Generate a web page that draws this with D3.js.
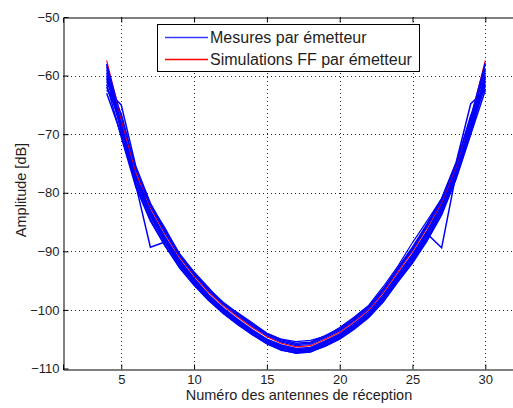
<!DOCTYPE html>
<html><head><meta charset="utf-8">
<script src="https://cdn.jsdelivr.net/npm/d3@7"></script>
<style>
html,body{margin:0;padding:0;background:#fff;}
svg{display:block;font-family:"Liberation Sans",Arial,sans-serif;}
</style></head>
<body>
<svg id="chart" width="513" height="408"></svg>
<script>
// ---- data ----
const antennas = [4,5,6,7,8,9,10,11,12,13,14,15,16,17,18,19,20,21,22,23,24,25,26,27,28,29,30];
const xTicks = [5,10,15,20,25,30];
const yTicks = [-50,-60,-70,-80,-90,-100,-110];
const legendLabels = ["Mesures par émetteur","Simulations FF par émetteur"];
const xLabel = "Numéro des antennes de réception";
const yLabel = "Amplitude [dB]";

const mes1  = [-58.0,-68.0,-77.2,-83.3,-87.8,-91.6,-94.8,-97.6,-99.9,-101.8,-103.6,-105.1,-106.2,-106.8,-106.6,-105.5,-104.3,-102.6,-100.6,-97.7,-94.2,-90.8,-86.8,-82.4,-76.0,-68.0,-58.0];
const mes2  = [-59.5,-69.0,-78.0,-84.0,-88.5,-92.3,-95.3,-98.0,-100.3,-102.2,-104.0,-105.6,-106.7,-107.2,-107.0,-106.0,-104.8,-103.0,-101.0,-98.2,-94.8,-91.5,-87.6,-83.2,-77.0,-69.2,-59.8];
const mes3  = [-62.5,-65.0,-75.5,-81.8,-86.3,-90.4,-93.6,-96.4,-98.7,-100.6,-102.4,-104.0,-105.1,-105.7,-105.5,-104.4,-103.2,-101.4,-99.4,-96.4,-92.8,-89.3,-85.3,-81.0,-74.8,-64.8,-62.5];
const mes4  = [-60.5,-69.0,-78.7,-89.3,-88.4,-92.0,-95.0,-97.8,-100.0,-101.9,-103.7,-105.2,-106.3,-106.9,-106.7,-105.6,-104.4,-102.7,-100.8,-97.9,-94.4,-91.0,-87.0,-82.6,-76.3,-68.5,-60.2];
const mes5  = [-58.5,-68.3,-77.5,-83.6,-88.0,-91.8,-95.0,-97.7,-100.0,-101.9,-103.7,-105.2,-106.3,-106.9,-106.7,-105.6,-104.4,-102.7,-100.8,-97.9,-94.3,-91.0,-87.0,-89.4,-76.7,-68.0,-58.8];
const mes6  = [-61.0,-66.5,-76.0,-82.0,-86.5,-90.6,-93.8,-96.6,-98.9,-100.8,-102.6,-104.2,-105.3,-105.9,-105.7,-104.6,-103.4,-101.6,-99.5,-96.5,-93.0,-89.5,-85.5,-81.2,-75.0,-66.8,-61.5];
const mes7  = [-63.0,-70.0,-78.5,-84.5,-89.0,-92.8,-95.8,-98.4,-100.6,-102.5,-104.2,-105.8,-106.9,-107.3,-107.1,-106.2,-105.0,-103.3,-101.3,-98.6,-95.2,-92.0,-88.2,-83.8,-77.6,-70.0,-62.5];
const mes8  = [-58.0,-67.0,-76.0,-82.3,-86.8,-90.8,-94.0,-96.8,-99.1,-101.0,-102.8,-104.4,-105.5,-106.1,-105.9,-104.8,-103.6,-101.8,-99.8,-96.8,-93.2,-89.8,-85.8,-81.5,-75.2,-67.0,-57.8];
const mes9  = [-60.0,-69.5,-77.0,-83.0,-87.5,-91.4,-94.6,-97.4,-99.7,-101.6,-103.4,-105.0,-106.0,-106.6,-106.4,-105.3,-104.1,-102.3,-100.3,-97.4,-93.9,-90.5,-86.5,-82.0,-75.8,-69.0,-60.5];
const mes10 = [-62.0,-68.0,-77.0,-83.8,-88.2,-92.0,-95.2,-97.9,-100.2,-102.1,-103.9,-105.4,-106.5,-107.0,-106.9,-105.8,-104.6,-102.9,-100.9,-98.0,-94.6,-91.2,-87.3,-82.9,-76.5,-68.8,-61.8];
const mes11 = [-59.0,-68.5,-77.5,-82.0,-86.0,-90.5,-93.5,-96.2,-99.0,-100.5,-102.2,-104.0,-105.0,-105.4,-105.2,-104.5,-103.0,-101.2,-99.2,-96.0,-92.5,-88.5,-84.8,-81.0,-75.0,-67.5,-59.2];
const mes12 = [-61.5,-70.5,-79.0,-84.8,-89.0,-92.6,-95.6,-98.2,-100.5,-102.4,-104.2,-105.7,-106.8,-107.4,-107.2,-106.1,-104.9,-103.1,-101.1,-98.3,-95.0,-91.8,-87.9,-83.5,-77.3,-69.8,-61.0];

const sim1 = [-57.4,-67.5,-76.5,-82.5,-87.0,-91.0,-94.2,-97.0,-99.3,-101.2,-103.0,-104.6,-105.7,-106.3,-106.1,-105.0,-103.8,-102.0,-100.0,-97.0,-93.5,-90.0,-86.0,-81.7,-75.4,-67.3,-57.4];

const measuresUnder = [mes1,mes2,mes3,mes4,mes5,mes6,mes7,mes9,mes10,mes12];
const simulations = [sim1];
const measuresOver = [mes8,mes11];

// ---- layout ----
const svg = d3.select("#chart");
const L = 63, T = 17, B = 368.5, R = 529;
const x = d3.scaleLinear().domain([1,33]).range([L, R]);
const y = d3.scaleLinear().domain([-110,-50]).range([B, T]);
const textCol = "#1e1e1e";

svg.append("rect").attr("width",513).attr("height",408).attr("fill","#fff");

// grid
const grid = svg.append("g").attr("stroke","#222").attr("stroke-width",1).attr("stroke-dasharray","1,3");
xTicks.forEach(t => {
  const px = Math.round(x(t)) + 0.5;
  grid.append("line").attr("x1",px).attr("x2",px).attr("y1",T).attr("y2",B);
});
yTicks.filter(t => t > -110 && t < -50).forEach(t => {
  const py = Math.round(y(t)) + 0.5;
  grid.append("line").attr("x1",L).attr("x2",R).attr("y1",py).attr("y2",py);
});

// lines
const line = d3.line().x((d,i) => x(antennas[i])).y(d => y(d));
svg.append("g").selectAll("path").data(measuresUnder).join("path")
  .attr("d", line).attr("fill","none").style("stroke","#0000ff").attr("stroke-width",1.5);
svg.append("g").selectAll("path").data(simulations).join("path")
  .attr("d", line).attr("fill","none").style("stroke","#ff0000").attr("stroke-width",1.1);
svg.append("g").selectAll("path").data(measuresOver).join("path")
  .attr("d", line).attr("fill","none").style("stroke","#0000ff").attr("stroke-width",1.2);

// axes
const gx = svg.append("g").attr("transform",`translate(0,${Math.round(B)+0.5})`)
  .call(d3.axisBottom(x).tickValues(xTicks).tickSize(-5).tickPadding(5));
const gxt = svg.append("g").attr("transform",`translate(0,${T+0.5})`)
  .call(d3.axisTop(x).tickValues(xTicks).tickSize(-5).tickFormat(""));
const gy = svg.append("g").attr("transform",`translate(${L+0.5},0)`)
  .call(d3.axisLeft(y).tickValues(yTicks).tickSize(-5).tickPadding(4));
[gx,gxt,gy].forEach(g => {
  g.select(".domain").attr("stroke","#000");
  g.selectAll(".tick line").attr("stroke","#000");
  g.selectAll("text").attr("fill",textCol).attr("font-size","13px")
    .attr("font-family","'Liberation Sans',Arial,sans-serif");
});
gy.selectAll(".tick").filter(d => d === -50 || d === -110).select("line").remove();

// axis labels
svg.append("text").attr("x",299).attr("y",400).attr("text-anchor","middle")
  .attr("font-size","14.5px").attr("fill",textCol).text(xLabel);
svg.append("text").attr("transform","translate(26,190) rotate(-90)").attr("text-anchor","middle")
  .attr("font-size","14.5px").attr("fill",textCol).text(yLabel);

// legend
const lg = svg.append("g");
lg.append("rect").attr("x",157.5).attr("y",24.5).attr("width",262).attr("height",47)
  .attr("fill","#fff").attr("stroke","#000").attr("stroke-width",1);
const legendColors = ["#3a3aff","#ff0000"];
const legendY = [37, 59];
legendLabels.forEach((lab,i) => {
  lg.append("line").attr("x1",165).attr("x2",208).attr("y1",legendY[i]+0.5).attr("y2",legendY[i]+0.5)
    .style("stroke",legendColors[i]).style("stroke-width","1.3px");
  lg.append("text").attr("x",210).attr("y",legendY[i]+5.5).attr("font-size","16px")
    .attr("fill",textCol).text(lab);
});
</script>
</body></html>
